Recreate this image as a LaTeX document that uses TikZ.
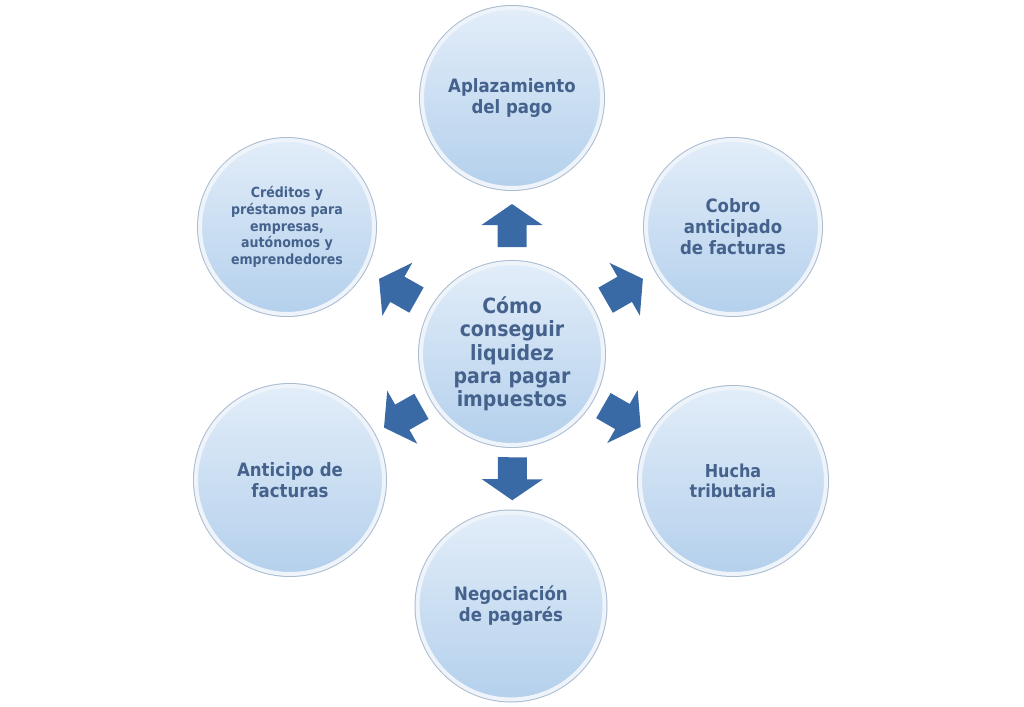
\documentclass[tikz,border=0pt]{standalone}
\usepackage{fontspec}
\setmainfont{DejaVu Sans Condensed}
\usetikzlibrary{calc}
\definecolor{txt}{RGB}{68,98,140}
\definecolor{arr}{RGB}{58,106,165}
\definecolor{btop}{RGB}{226,237,249}
\definecolor{bbot}{RGB}{180,208,236}
\definecolor{rim}{RGB}{238,244,250}
\definecolor{rimline}{RGB}{170,188,208}
\tikzset{
  bubble/.style={circle, inner sep=0pt, minimum size=#1, top color=btop, bottom color=bbot,
    draw=rim, line width=4pt, preaction={draw=rimline, line width=6pt},
    text=txt, align=center},
  big/.style={font=\bfseries\fontsize{21}{23.3}\selectfont},
  mid/.style={font=\bfseries\fontsize{18.4}{20.9}\selectfont},
  small/.style={font=\bfseries\fontsize{14}{16.7}\selectfont},
  pics/blockarr/.style={code={
    \fill[arr] (-21.5,-14.5) -- (0.5,-14.5) -- (0.5,-30.5) -- (21.5,0) -- (0.5,30.5) -- (0.5,14.5) -- (-21.5,14.5) -- cycle;}}
}
\newcommand\radarrow[2]{%
  \path let \p1=($(#2.center)-(#1.center)$), \n1={atan2(\y1,\x1)}, \n2={\n1+180} in
    pic[rotate=\n1] at ($(#1.\n1)!0.5!(#2.\n2)$) {blockarr};}
\begin{document}
\begin{tikzpicture}[x=1pt,y=-1pt]
\useasboundingbox (0,0) rectangle (1024,706);
\node[bubble=182, big] (c) at (512,354) {Cómo\\conseguir\\liquidez\\para pagar\\impuestos};
\node[bubble=180, mid] (t) at (512,98) {Aplazamiento\\del pago};
\node[bubble=174, mid] (ur) at (733,227) {Cobro\\anticipado\\de facturas};
\node[bubble=186, mid, font=\bfseries\fontsize{17.8}{20}\selectfont] (lr) at (733,481) {Hucha\\tributaria};
\node[bubble=187, mid] (b) at (511,606) {Negociación\\de pagarés};
\node[bubble=188, mid] (ll) at (290,480) {Anticipo de\\facturas};
\node[bubble=174, small] (ul) at (287,227) {Créditos y\\préstamos para\\empresas,\\autónomos y\\emprendedores};
\radarrow{c}{t}
\radarrow{c}{ur}
\radarrow{c}{lr}
\radarrow{c}{b}
\radarrow{c}{ll}
\radarrow{c}{ul}
\end{tikzpicture}
\end{document}
